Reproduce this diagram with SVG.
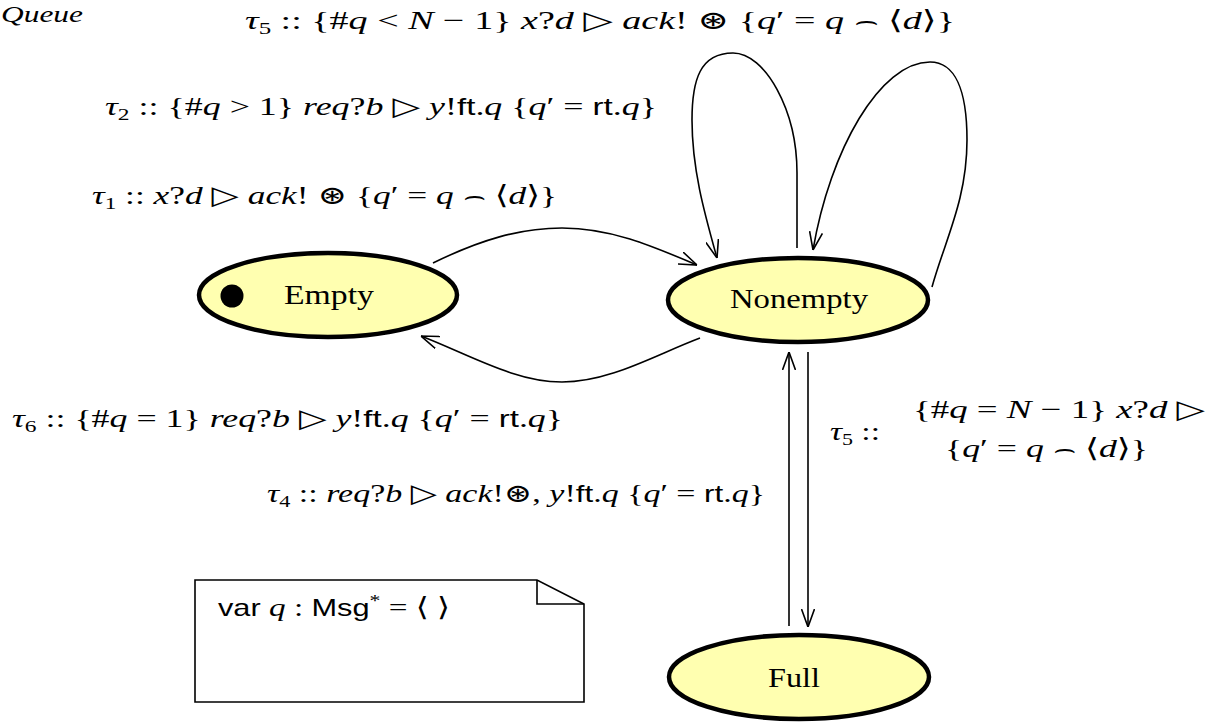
<svg xmlns="http://www.w3.org/2000/svg" width="1222" height="722" viewBox="0 0 1222 722">
<style>
.st{fill:#ffffb0;stroke:#000;stroke-width:4.5}
.t{font-family:"Liberation Serif","DejaVu Serif",serif;font-size:26px;fill:#000}
.n{font-family:"Liberation Serif","DejaVu Serif",serif;font-size:28px;fill:#000}
.i{font-style:italic}
.s{font-family:"Liberation Sans","DejaVu Sans",sans-serif;font-size:24px}
.sub{font-size:17px}
.e{fill:none;stroke:#000;stroke-width:1.6}
</style>
<defs>
<marker id="ah" viewBox="0 0 18 14" refX="18" refY="7" markerWidth="18" markerHeight="14" markerUnits="userSpaceOnUse" orient="auto">
<path d="M0,0.5 L18,7 L0,13.5" fill="none" stroke="#000" stroke-width="1.6"/>
</marker>
</defs>
<text class="t i" x="1" y="22" style="font-size:24px" textLength="82" lengthAdjust="spacingAndGlyphs">Queue</text>
<g id="connectors">
<path class="e" d="M433,263 C480,240 520,228 562,228 C610,228 650,245 697,265" marker-end="url(#ah)"/>
<path class="e" d="M700,338 C655,355 610,382 562,382 C515,382 470,355 421,336" marker-end="url(#ah)"/>
<path class="e" d="M797,248 L797,173 C797,110 765,53 733,53 C700,53 692,80 692,120 C692,170 705,215 717,258" marker-end="url(#ah)"/>
<path class="e" d="M932,287 C945,240 967,200 967,140 C967,90 955,62 930,62 C880,62 830,150 813,250" marker-end="url(#ah)"/>
<path class="e" d="M789,626 L789,352" marker-end="url(#ah)"/>
<path class="e" d="M808,352 L808,627" marker-end="url(#ah)"/>
</g>
<g id="labels">
<text class="t" x="245" y="29" textLength="710" lengthAdjust="spacingAndGlyphs"><tspan class="i">τ</tspan><tspan class="sub" dy="5">5</tspan><tspan dy="-5"> ::  {#</tspan><tspan class="i">q</tspan> &lt; <tspan class="i">N</tspan> − 1} <tspan class="i">x</tspan>?<tspan class="i">d</tspan> ▷ <tspan class="i">ack</tspan>! ⊛  {<tspan class="i">q</tspan>′ = <tspan class="i">q</tspan> ⌢ ⟨<tspan class="i">d</tspan>⟩}</text>
<text class="t" x="105" y="115" textLength="552" lengthAdjust="spacingAndGlyphs"><tspan class="i">τ</tspan><tspan class="sub" dy="5">2</tspan><tspan dy="-5"> ::  {#</tspan><tspan class="i">q</tspan> &gt; 1} <tspan class="i">req</tspan>?<tspan class="i">b</tspan> ▷ <tspan class="i">y</tspan>!<tspan class="s">ft</tspan>.<tspan class="i">q</tspan> {<tspan class="i">q</tspan>′ = <tspan class="s">rt</tspan>.<tspan class="i">q</tspan>}</text>
<text class="t" x="92" y="204" textLength="465" lengthAdjust="spacingAndGlyphs"><tspan class="i">τ</tspan><tspan class="sub" dy="5">1</tspan><tspan dy="-5"> :: </tspan><tspan class="i">x</tspan>?<tspan class="i">d</tspan> ▷ <tspan class="i">ack</tspan>! ⊛  {<tspan class="i">q</tspan>′ = <tspan class="i">q</tspan> ⌢ ⟨<tspan class="i">d</tspan>⟩}</text>
<text class="t" x="12" y="427" textLength="551" lengthAdjust="spacingAndGlyphs"><tspan class="i">τ</tspan><tspan class="sub" dy="5">6</tspan><tspan dy="-5"> ::  {#</tspan><tspan class="i">q</tspan> = 1} <tspan class="i">req</tspan>?<tspan class="i">b</tspan> ▷ <tspan class="i">y</tspan>!<tspan class="s">ft</tspan>.<tspan class="i">q</tspan> {<tspan class="i">q</tspan>′ = <tspan class="s">rt</tspan>.<tspan class="i">q</tspan>}</text>
<text class="t" x="830" y="440" textLength="50" lengthAdjust="spacingAndGlyphs"><tspan class="i">τ</tspan><tspan class="sub" dy="5">5</tspan><tspan dy="-5"> ::</tspan></text>
<text class="t" x="913" y="418" textLength="292" lengthAdjust="spacingAndGlyphs">{#<tspan class="i">q</tspan> = <tspan class="i">N</tspan> − 1} <tspan class="i">x</tspan>?<tspan class="i">d</tspan> ▷</text>
<text class="t" x="945" y="457" textLength="203" lengthAdjust="spacingAndGlyphs">{<tspan class="i">q</tspan>′ = <tspan class="i">q</tspan> ⌢ ⟨<tspan class="i">d</tspan>⟩}</text>
<text class="t" x="267" y="502" textLength="498" lengthAdjust="spacingAndGlyphs"><tspan class="i">τ</tspan><tspan class="sub" dy="5">4</tspan><tspan dy="-5"> :: </tspan><tspan class="i">req</tspan>?<tspan class="i">b</tspan> ▷ <tspan class="i">ack</tspan>!⊛, <tspan class="i">y</tspan>!<tspan class="s">ft</tspan>.<tspan class="i">q</tspan> {<tspan class="i">q</tspan>′ = <tspan class="s">rt</tspan>.<tspan class="i">q</tspan>}</text>
</g>
<g id="note">
<polygon points="195,580 537,580 584,604 584,702 195,702" fill="#fff" stroke="#000" stroke-width="1.6"/>
<polyline points="537,580 537,604 584,604" fill="none" stroke="#000" stroke-width="1.6"/>
<text class="t" x="218" y="616" textLength="232" lengthAdjust="spacingAndGlyphs"><tspan class="s">var</tspan>  <tspan class="i">q</tspan> : <tspan class="s">Msg</tspan><tspan class="sub" dy="-10">*</tspan><tspan dy="10"> = ⟨ ⟩</tspan></text>
</g>
<g id="Empty">
<ellipse class="st" cx="328" cy="295" rx="129" ry="42"/>
<circle cx="232" cy="296" r="11.5" fill="#000"/>
<text class="n" x="329" y="304" text-anchor="middle" textLength="90" lengthAdjust="spacingAndGlyphs">Empty</text>
</g>
<g id="Nonempty">
<ellipse class="st" cx="798" cy="300" rx="130" ry="42"/>
<text class="n" x="799" y="308" text-anchor="middle" textLength="138" lengthAdjust="spacingAndGlyphs">Nonempty</text>
</g>
<g id="Full">
<ellipse class="st" cx="799" cy="677" rx="130" ry="42"/>
<text class="n" x="794" y="687" text-anchor="middle" textLength="52" lengthAdjust="spacingAndGlyphs">Full</text>
</g>
</svg>
